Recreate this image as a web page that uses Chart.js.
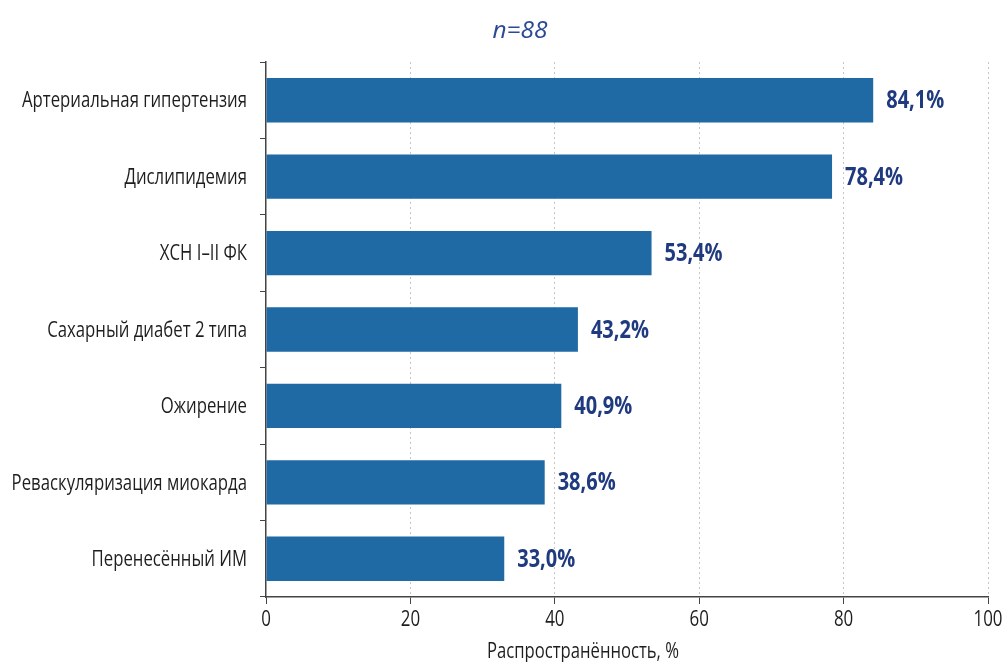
<!DOCTYPE html>
<html>
<head>
<meta charset="utf-8">
<script src="https://cdn.jsdelivr.net/npm/chart.js@4.4.0/dist/chart.umd.min.js"></script>
<style>
  html, body { margin: 0; padding: 0; background: #ffffff; }
  #wrap { width: 1005px; height: 662px; }
</style>
</head>
<body>
<div id="wrap"><canvas id="c" width="1005" height="662"></canvas></div>
<script>
const categories = [
  'Артериальная гипертензия',
  'Дислипидемия',
  'ХСН I–II ФК',
  'Сахарный диабет 2 типа',
  'Ожирение',
  'Реваскуляризация миокарда',
  'Перенесённый ИМ'
];
const values = [84.1, 78.4, 53.4, 43.2, 40.9, 38.6, 33.0];
const xTicks = [0, 20, 40, 60, 80, 100];
const titleText = 'n=88';
const xAxisTitle = 'Распространённость, %';

const BASE = '"Open Sans", "Liberation Sans", sans-serif';

// draw text horizontally compressed so that `ref` string would measure `refWidth`
function condensedScale(ctx, font, ref, refWidth) {
  ctx.save();
  ctx.font = font;
  const w = ctx.measureText(ref).width;
  ctx.restore();
  return refWidth / w;
}
function drawCondensed(ctx, text, x, y, font, sx, align, color) {
  ctx.save();
  ctx.font = font;
  ctx.fillStyle = color;
  ctx.textAlign = align;
  ctx.textBaseline = 'middle';
  ctx.translate(x, y);
  ctx.scale(sx, 1);
  ctx.fillText(text, 0, 0);
  ctx.restore();
}

const customText = {
  id: 'customText',
  afterDraw(chart) {
    const ctx = chart.ctx;
    const xs = chart.scales.x, ys = chart.scales.y;

    // category labels
    const catFont = '22px ' + BASE;
    const sCat = condensedScale(ctx, catFont, categories[0], 225);
    ys.getLabels().forEach((lab, i) => {
      drawCondensed(ctx, lab, ys.right - 19, ys.getPixelForValue(i) + 1, catFont, sCat, 'right', '#1e1e1e');
    });

    // x tick labels
    const tickFont = '22px ' + BASE;
    const sTick = condensedScale(ctx, tickFont, '100', 29);
    xTicks.forEach(v => {
      drawCondensed(ctx, String(v), xs.getPixelForValue(v), 620, tickFont, sTick, 'center', '#1e1e1e');
    });

    // axis title
    const axFont = '22px ' + BASE;
    const sAx = condensedScale(ctx, axFont, xAxisTitle, 192);
    drawCondensed(ctx, xAxisTitle, 583, 652, axFont, sAx, 'center', '#1e1e1e');

    // value labels
    const valFont = 'bold 25px ' + BASE;
    const sVal = condensedScale(ctx, valFont, '84,1%', 58);
    const meta = chart.getDatasetMeta(0);
    meta.data.forEach((bar, i) => {
      const txt = values[i].toFixed(1).replace('.', ',') + '%';
      drawCondensed(ctx, txt, bar.x + 13, bar.y + 1, valFont, sVal, 'left', '#1f3a7e');
    });

    // title
    const tFont = 'italic 24px ' + BASE;
    const sT = condensedScale(ctx, tFont, titleText, 55);
    drawCondensed(ctx, titleText, 520, 31, tFont, sT, 'center', '#2b4a94');
  }
};

new Chart(document.getElementById('c'), {
  type: 'bar',
  data: {
    labels: categories,
    datasets: [{
      data: values,
      backgroundColor: '#1f69a4',
      borderWidth: 0,
      categoryPercentage: 1.0,
      barPercentage: 0.58
    }]
  },
  options: {
    indexAxis: 'y',
    responsive: false,
    animation: false,
    layout: { padding: { top: 62, right: 17, left: 0, bottom: 0 } },
    plugins: {
      legend: { display: false },
      tooltip: { enabled: false },
      title: { display: false }
    },
    scales: {
      x: {
        type: 'linear',
        min: 0,
        max: 100,
        afterBuildTicks(scale) { scale.ticks = xTicks.map(v => ({ value: v })); },
        afterFit(scale) { scale.height = 65; },
        border: { display: true, color: '#444', width: 1.5, dash: [2, 3] },
        grid: {
          display: true,
          drawOnChartArea: true,
          drawTicks: true,
          tickLength: 7,
          color: (c) => (c.tick && c.tick.value === 0) ? 'rgba(0,0,0,0)' : '#c4c4c4',
          tickColor: '#444',
          lineWidth: 1,
          tickBorderDash: []
        },
        ticks: { display: false },
        title: { display: false }
      },
      y: {
        type: 'category',
        afterFit(scale) { scale.width = 266; },
        border: { display: true, color: '#444', width: 1.5 },
        grid: {
          display: true,
          offset: true,
          drawOnChartArea: false,
          drawTicks: true,
          tickLength: 6,
          tickColor: '#444'
        },
        ticks: { display: false }
      }
    }
  },
  plugins: [customText]
});
</script>
</body>
</html>
